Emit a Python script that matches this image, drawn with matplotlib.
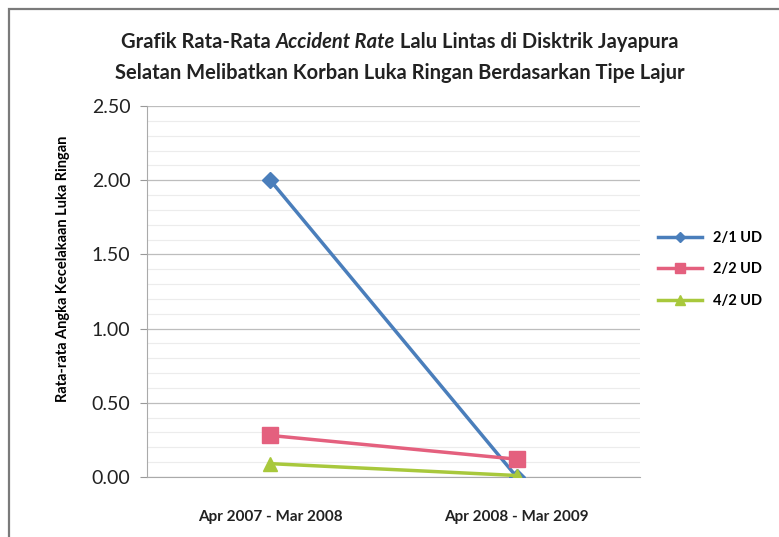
import numpy as np
import matplotlib.pyplot as plt
from matplotlib.patches import Rectangle

periods = ['Apr 2007 - Mar 2008', 'Apr 2008 - Mar 2009']
ud21 = [2.00, 0.00]
ud22 = [0.28, 0.12]
ud42 = [0.09, 0.01]

plt.rcParams['font.family'] = ['Lato', 'DejaVu Sans']

fig = plt.figure(figsize=(7.79, 5.37), dpi=100)
fig.patch.set_facecolor('white')
# outer chart frame (runs off the bottom and right like the scan)
fig.patches.append(Rectangle((9/779, -0.05), 1.1, 1 - 9/537 + 0.05,
                             transform=fig.transFigure, fill=False,
                             edgecolor='#7a7a7a', linewidth=1.6))

ax = fig.add_axes([147/779, 1 - 477/537, 493/779, 371/537])
x = np.arange(len(periods))

ax.plot(x, ud21, color='#4a7ebb', linewidth=2.5, marker='D', markersize=8, label='2/1 UD', zorder=3)
ax.plot(x, ud22, color='#e4607e', linewidth=2.5, marker='s', markersize=11, label='2/2 UD', zorder=4)
ax.plot(x, ud42, color='#a8c83c', linewidth=2.5, marker='^', markersize=10, label='4/2 UD', zorder=5)

ax.set_xlim(-0.5, 1.5)
ax.set_ylim(0, 2.5)
ax.set_yticks(np.arange(0, 2.51, 0.5))
ax.set_yticklabels(['%.2f' % v for v in np.arange(0, 2.51, 0.5)], fontsize=14, color='#222222')
ax.set_yticks(np.arange(0, 2.51, 0.1), minor=True)
ax.set_xticks(x)
ax.set_xticklabels(periods, fontsize=11, fontweight='bold', color='#222222')
ax.tick_params(axis='x', length=0, pad=24)
ax.tick_params(axis='y', which='major', length=5, color='#999999', pad=7)
ax.tick_params(axis='y', which='minor', length=0)

ax.grid(True, axis='y', which='major', color='#bdbdbd', linewidth=0.9)
ax.grid(True, axis='y', which='minor', color='#ececec', linewidth=0.8)
ax.set_axisbelow(True)
for s in ['top', 'right']:
    ax.spines[s].set_visible(False)
ax.spines['left'].set_color('#aaaaaa')
ax.spines['bottom'].set_color('#aaaaaa')

ax.set_ylabel('Rata-rata Angka Kecelakaan Luka Ringan', fontsize=10.5, fontweight='bold')
ax.yaxis.set_label_coords(-0.156, 0.56)

# title: line 1 has an italic piece, so build it from parts
parts = [('Grafik Rata-Rata ', 'normal'), ('Accident Rate', 'italic'),
         (' Lalu Lintas di Disktrik Jayapura', 'normal')]
tsize = 14.5
renderer = fig.canvas.get_renderer()
texts = []
widths = []
for s, st in parts:
    t = fig.text(0, 1 - 42/537, s, ha='left', va='center', fontsize=tsize,
                 fontweight='bold', style=st, color='#222222')
    texts.append(t)
    widths.append(t.get_window_extent(renderer).width)
xpos = (fig.bbox.width * 0.513) - sum(widths) / 2
for t, w in zip(texts, widths):
    t.set_x(xpos / fig.bbox.width)
    xpos += w
fig.text(0.513, 1 - 73/537, 'Selatan Melibatkan Korban Luka Ringan Berdasarkan Tipe Lajur',
         ha='center', va='center', fontsize=tsize, fontweight='bold', color='#222222')

ax.legend(loc='center left', bbox_to_anchor=(1.01, 0.56), frameon=False,
          prop={'weight': 'bold', 'size': 10.5}, handlelength=3.0, labelspacing=1.2, markerscale=0.65)

fig.savefig('out.png', dpi=100, facecolor='white')
